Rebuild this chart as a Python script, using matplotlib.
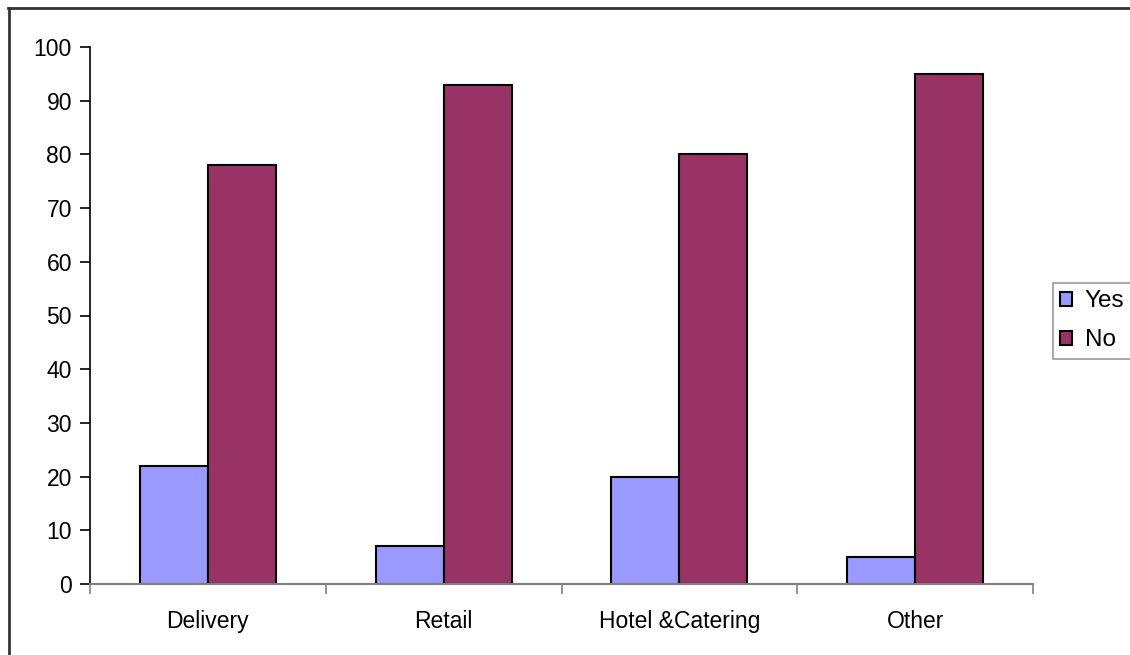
import numpy as np
import matplotlib.pyplot as plt
from matplotlib.lines import Line2D

plt.rcParams['font.family'] = ['Liberation Sans', 'DejaVu Sans']
plt.rcParams['font.size'] = 16

categories = ['Delivery', 'Retail', 'Hotel &Catering', 'Other']
yes_vals = [22, 7, 20, 5]
no_vals = [78, 93, 80, 95]

fig = plt.figure(figsize=(11.3, 6.55), dpi=100)
ax = fig.add_axes([90 / 1130, 1 - 584 / 655, (1033 - 90) / 1130, (584 - 47) / 655])

x = np.arange(len(categories))
w = 0.288
ax.bar(x - w / 2, yes_vals, w, color='#9999ff', edgecolor='black', linewidth=1.5, label='Yes')
ax.bar(x + w / 2, no_vals, w, color='#993366', edgecolor='black', linewidth=1.5, label='No')

ax.set_xlim(-0.5, len(categories) - 0.5)
ax.set_ylim(0, 100)
ax.set_yticks(range(0, 101, 10))

# category labels centred, tick marks at the category boundaries
ax.set_xticks(x)
ax.set_xticklabels(categories, fontsize=16.5)
ax.tick_params(axis='x', length=0, pad=19)
ax.set_xticks(np.arange(-0.5, len(categories)), minor=True)
ax.tick_params(axis='x', which='minor', length=7, color='#808080', width=1.2)
ax.tick_params(axis='y', length=7, width=1.2, pad=6, labelsize=16.5)

for s in ['top', 'right']:
    ax.spines[s].set_visible(False)
ax.spines['left'].set_linewidth(1.2)
ax.spines['bottom'].set_color('#808080')
ax.spines['bottom'].set_linewidth(1.5)

leg = fig.legend(loc='upper left', bbox_to_anchor=(1053 / 1130, 1 - 283 / 655),
                 frameon=True, fancybox=False, edgecolor='#808080', fontsize=17.5,
                 handlelength=0.5, handleheight=0.5, handletextpad=0.5,
                 borderpad=0.3, labelspacing=0.7, borderaxespad=0)
leg.get_frame().set_linewidth(1.2)

# chart area border
fig.add_artist(Line2D([8 / 1130, 1], [1 - 8 / 655, 1 - 8 / 655], color='#333333', linewidth=2))
fig.add_artist(Line2D([8.5 / 1130, 8.5 / 1130], [0, 1 - 8 / 655], color='#333333', linewidth=2))

fig.savefig('out.png', dpi=100)
